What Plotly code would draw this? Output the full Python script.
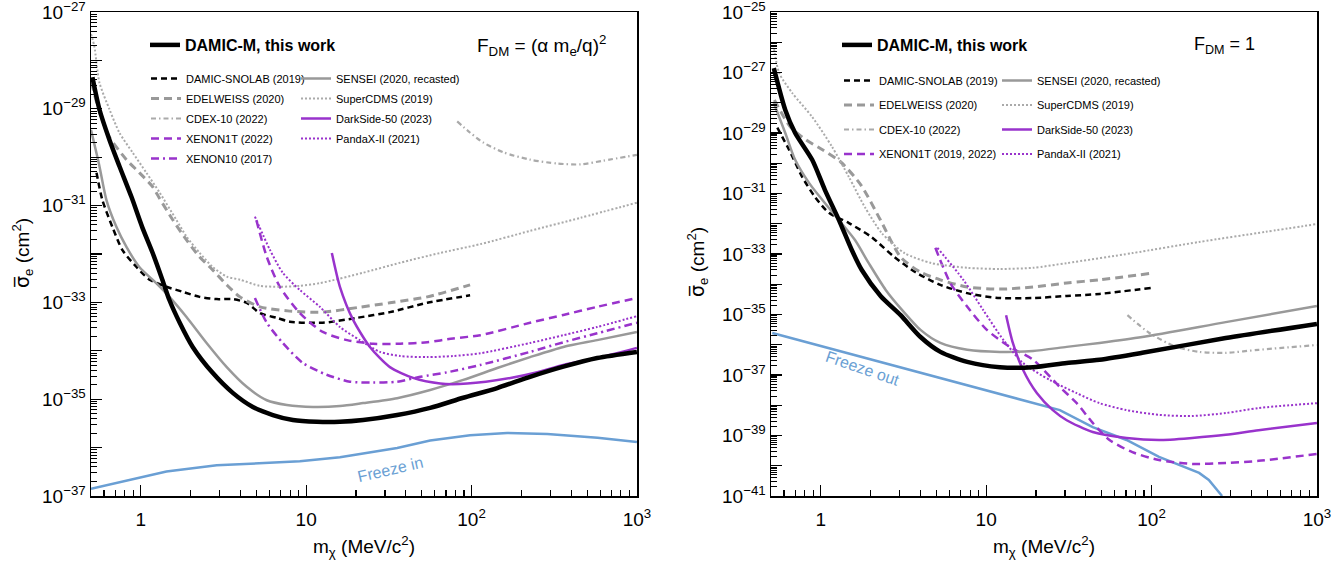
import plotly.graph_objects as go

# ---------------- data ----------------
# Left panel: F_DM = (alpha m_e / q)^2
L_damicm_m = [0.51, 0.562, 0.646, 0.743, 0.879, 1.02, 1.18, 1.35, 1.49, 1.72, 2.06, 2.72, 3.60, 4.76, 6.29, 8.31, 11.6, 16.0, 22.1, 35.5, 56.2, 89.1, 143, 226, 359, 575, 1000]
L_damicm_s = [4.5e-29, 9.8e-30, 2.3e-30, 6.5e-31, 1.5e-31, 3.6e-32, 1.05e-32, 2.95e-33, 1.12e-33, 3.8e-34, 1.2e-34, 3.5e-35, 1.35e-35, 6.9e-36, 4.7e-36, 3.7e-36, 3.4e-36, 3.4e-36, 3.7e-36, 4.7e-36, 6.6e-36, 1.07e-35, 1.7e-35, 2.9e-35, 4.7e-35, 7.1e-35, 9.5e-35]

L_snolab_m = [0.54, 0.586, 0.674, 0.775, 0.942, 1.13, 1.43, 1.79, 2.27, 2.88, 3.60, 4.37, 5.25, 6.64, 7.97, 12.6, 20.3, 32.1, 54.0, 98]
L_snolab_s = [4.8e-31, 1.3e-31, 3.6e-32, 1.2e-32, 5.4e-33, 2.95e-33, 2.1e-33, 1.66e-33, 1.3e-33, 1.17e-33, 1.17e-33, 9.8e-34, 6.0e-34, 4.8e-34, 4.0e-34, 3.8e-34, 4.8e-34, 6.3e-34, 9.8e-34, 1.4e-33]

L_edel_m = [0.503, 0.562, 0.646, 0.819, 0.98, 1.18, 1.30, 1.56, 1.89, 2.27, 2.72, 3.31, 3.98, 5.25, 7.97, 12.6, 20.3, 32.1, 54.0, 98]
L_edel_s = [3.5e-29, 8.7e-30, 2.6e-30, 8.9e-31, 4.8e-31, 2.45e-31, 1.4e-31, 5.1e-32, 1.95e-32, 8.7e-33, 4.7e-33, 2.3e-33, 1.3e-33, 8.1e-34, 6.6e-34, 6.3e-34, 7.8e-34, 9.8e-34, 1.3e-33, 2.3e-33]

L_cdex_m = [81.9, 98.2, 118, 156, 226, 330, 456, 628, 1000]
L_cdex_s = [5.5e-30, 3.2e-30, 2.0e-30, 1.26e-30, 8.9e-31, 7.4e-31, 7.1e-31, 8.5e-31, 1.12e-30]

L_xe1t_m = [5.0, 5.78, 6.93, 9.16, 12.6, 17.7, 25.4, 37.0, 54.0, 77.4, 113, 226, 359, 575, 1000]
L_xe1t_s = [5.0e-32, 8.7e-33, 2.1e-33, 6.0e-34, 2.45e-34, 1.66e-34, 1.4e-34, 1.4e-34, 1.5e-34, 1.8e-34, 2.1e-34, 3.8e-34, 5.5e-34, 8.1e-34, 1.23e-33]

L_xe10_m = [4.90, 5.78, 7.22, 9.55, 13.3, 18.4, 25.4, 35.5, 49.0, 71.3, 113, 226, 359, 575, 1000]
L_xe10_s = [1.23e-33, 3.8e-34, 1.45e-34, 5.6e-35, 3.2e-35, 2.3e-35, 2.2e-35, 2.3e-35, 2.9e-35, 3.6e-35, 5.1e-35, 9.5e-35, 1.5e-34, 2.3e-34, 3.8e-34]

L_sensei_m = [0.5, 0.56, 0.62, 0.713, 0.819, 0.98, 1.24, 1.49, 1.89, 2.50, 3.31, 4.37, 5.78, 7.64, 11.0, 16.0, 22.1, 35.5, 56.2, 89.1, 143, 226, 359, 575, 1000]
L_sensei_s = [3.7e-30, 7.0e-31, 1.3e-31, 3.6e-32, 1.4e-32, 5.4e-33, 2.5e-33, 1.3e-33, 5.0e-34, 1.45e-34, 4.6e-35, 1.8e-35, 9.5e-36, 7.6e-36, 6.9e-36, 7.2e-36, 8.3e-36, 1.05e-35, 1.55e-35, 2.5e-35, 4.4e-35, 7.4e-35, 1.2e-34, 1.66e-34, 2.45e-34]

L_scdms_m = [0.5, 0.524, 0.562, 0.646, 0.743, 0.891, 1.08, 1.30, 1.64, 1.89, 2.27, 2.72, 3.31, 3.98, 5.24, 6.93, 9.16, 12.1, 22.1, 37.0, 64.6, 113, 226, 456, 1000]
L_scdms_s = [3.5e-28, 1.95e-28, 3.5e-29, 9.8e-30, 3.2e-30, 1.26e-30, 4.8e-31, 1.86e-31, 5.1e-32, 2.3e-32, 1.05e-32, 5.4e-33, 3.4e-33, 2.95e-33, 2.2e-33, 2.1e-33, 2.2e-33, 2.5e-33, 4.1e-33, 6.6e-33, 1.05e-32, 1.6e-32, 3.0e-32, 5.6e-32, 1.15e-31]

L_ds50_m = [14.3, 16.0, 19.2, 24.3, 32.1, 44.3, 64.6, 94.2, 172, 250, 359, 575, 1000]
L_ds50_s = [1.05e-32, 2.1e-33, 4.4e-34, 1.2e-34, 4.6e-35, 2.75e-35, 2.1e-35, 2.1e-35, 2.75e-35, 3.6e-35, 5.1e-35, 7.1e-35, 1.15e-34]

L_pandax_m = [4.90, 6.03, 7.22, 9.16, 12.1, 16.0, 21.1, 28.0, 37.0, 54.0, 77.4, 113, 226, 359, 575, 1000]
L_pandax_s = [5.9e-32, 1.23e-32, 4.1e-33, 1.8e-33, 8.1e-34, 3.1e-34, 1.66e-34, 9.5e-35, 7.8e-35, 7.4e-35, 7.8e-35, 8.9e-35, 1.45e-34, 2.1e-34, 3.1e-34, 5.2e-34]

L_freeze_m = [0.5, 1.43, 2.88, 9.16, 16.0, 22.1, 35.5, 56.2, 98, 164, 287, 578, 1000]
L_freeze_s = [1.4e-37, 3.2e-37, 4.3e-37, 5.2e-37, 6.3e-37, 7.6e-37, 9.8e-37, 1.4e-36, 1.8e-36, 2.0e-36, 1.9e-36, 1.6e-36, 1.3e-36]

# Right panel: F_DM = 1
R_damicm_m = [0.52, 0.610, 0.700, 0.887, 1.06, 1.29, 1.54, 1.77, 2.30, 3.04, 4.01, 5.29, 7.69, 12.1, 19.2, 30.7, 48.5, 87.9, 281, 1000]
R_damicm_s = [1.4e-27, 5.8e-29, 1.0e-29, 1.3e-30, 1.3e-31, 1.3e-32, 1.35e-33, 2.95e-34, 4.1e-35, 9.5e-36, 1.8e-36, 5.8e-37, 2.7e-37, 1.8e-37, 1.8e-37, 2.5e-37, 3.2e-37, 5.4e-37, 1.66e-36, 4.9e-36]

R_snolab_m = [0.546, 0.644, 0.773, 0.924, 1.12, 1.48, 2.03, 2.79, 3.74, 5.29, 8.01, 12.1, 19.2, 30.7, 48.5, 99.7]
R_snolab_s = [1.5e-29, 2.75e-30, 3.5e-31, 7.6e-32, 2.3e-32, 1.05e-32, 3.6e-33, 7.9e-34, 2.5e-34, 9.5e-35, 4.8e-35, 3.5e-35, 3.5e-35, 4.1e-35, 4.8e-35, 7.6e-35]

R_edel_m = [0.524, 0.654, 0.816, 1.03, 1.32, 1.75, 2.30, 3.04, 4.01, 5.29, 7.69, 12.1, 19.2, 30.7, 48.5, 99.7]
R_edel_s = [1.23e-28, 1.6e-29, 5.9e-30, 2.75e-30, 1.1e-30, 1.9e-31, 1.3e-32, 7.9e-34, 2.5e-34, 1.4e-34, 8.1e-35, 6.9e-35, 8.1e-35, 1.1e-34, 1.4e-34, 2.3e-34]

R_cdex_m = [71.5, 97.0, 141, 194, 281, 444, 1000]
R_cdex_s = [9.5e-36, 2.45e-36, 8.5e-37, 5.8e-37, 5.4e-37, 6.8e-37, 9.8e-37]

R_xe1t_m = [4.93, 6.07, 7.69, 10.1, 13.9, 19.2, 27.9, 35.3, 44.1, 55.7, 76.6, 111, 176, 281, 444, 1000]
R_xe1t_s = [1.6e-33, 1.1e-34, 1.8e-35, 3.1e-36, 8.5e-37, 3.2e-37, 4.0e-38, 1.17e-38, 2.6e-39, 7.1e-40, 2.8e-40, 1.55e-40, 1.15e-40, 1.23e-40, 1.45e-40, 2.45e-40]

R_sensei_m = [0.52, 0.610, 0.700, 0.851, 1.02, 1.29, 1.61, 1.95, 2.47, 3.04, 4.01, 5.29, 7.69, 12.1, 19.2, 30.7, 48.5, 87.9, 281, 1000]
R_sensei_s = [9.8e-29, 1.0e-29, 1.3e-30, 2.2e-31, 6.2e-32, 1.3e-32, 2.9e-33, 5.0e-34, 6.5e-35, 1.6e-35, 3.1e-36, 1.15e-36, 6.8e-37, 5.8e-37, 6.2e-37, 8.5e-37, 1.15e-36, 1.8e-36, 5.6e-36, 1.9e-35]

R_scdms_m = [0.517, 0.561, 0.672, 0.887, 1.17, 1.48, 1.85, 2.34, 3.21, 4.67, 7.69, 12.1, 19.2, 30.7, 76.6, 194, 490, 1000]
R_scdms_s = [8.1e-27, 9.5e-28, 2.1e-28, 3.4e-29, 3.5e-30, 3.5e-31, 3.5e-32, 4.9e-33, 1.07e-33, 5.0e-34, 3.5e-34, 3.2e-34, 3.5e-34, 5.0e-34, 1.07e-33, 2.5e-33, 5.4e-33, 9.8e-33]

R_ds50_m = [13.2, 14.5, 16.7, 20.3, 25.3, 30.7, 44.1, 70.6, 111, 176, 281, 444, 1000]
R_ds50_s = [9.5e-36, 1.15e-36, 1.5e-37, 2.5e-38, 6.9e-39, 3.2e-39, 1.3e-39, 8.3e-40, 7.1e-40, 8.3e-40, 1.05e-39, 1.5e-39, 2.6e-39]

R_pandax_m = [5.07, 7.28, 9.60, 12.7, 16.7, 24.3, 35.3, 48.5, 70.6, 111, 176, 281, 444, 1000]
R_pandax_s = [1.6e-33, 1.4e-34, 1.4e-35, 1.45e-36, 2.5e-37, 6.8e-38, 2.5e-38, 1.17e-38, 6.9e-39, 4.8e-39, 4.4e-39, 5.5e-39, 8.1e-39, 1.17e-38]

R_freeze_m = [0.509, 3.04, 19.2, 27.9, 44.1, 70.6, 111, 194, 222, 267]
R_freeze_s = [2.45e-36, 1.8e-37, 1.17e-38, 6.9e-39, 1.9e-39, 7.1e-40, 1.95e-40, 5.8e-41, 3.4e-41, 1.0e-41]

# axis ticks
x_tickvals = [1, 10, 100, 1000]
x_ticktext = ["1", "10", "10<sup>2</sup>", "10<sup>3</sup>"]
L_exps = list(range(-37, -26))
R_exps = list(range(-41, -24))

# ---------------- styles ----------------
FONT = "Liberation Sans, Arial, Helvetica, sans-serif"
BLACK = "#000000"
GRAY = "#999999"
LGRAY = "#aaaaaa"
PURPLE = "#9933cc"
BLUE = "#6a9fd4"

fig = go.Figure()


def add(m, s, axis, color, width, dash, name, legend, shape="spline"):
    xa, ya_ = ("x", "y") if axis == 1 else ("x2", "y2")
    fig.add_trace(go.Scatter(
        x=m, y=s, xaxis=xa, yaxis=ya_, mode="lines", name=name,
        line=dict(color=color, width=width, dash=dash, shape=shape,
                  smoothing=0.7 if shape == "spline" else None),
        showlegend=legend is not None, legend=legend or "legend",
        legendgroup=name + str(axis), hoverinfo="skip"))


# left panel (legend order follows the order of addition within each legend)
add(L_freeze_m, L_freeze_s, 1, BLUE, 2.5, "solid", "Freeze in", None, "linear")
add(L_snolab_m, L_snolab_s, 1, BLACK, 2.5, "6px,4px", "DAMIC-SNOLAB (2019)", "legend2")
add(L_edel_m, L_edel_s, 1, GRAY, 3, "8px,5px", "EDELWEISS (2020)", "legend2")
add(L_cdex_m, L_cdex_s, 1, LGRAY, 2.2, "5px,3px,1.5px,3px", "CDEX-10 (2022)", "legend2")
add(L_xe1t_m, L_xe1t_s, 1, PURPLE, 2.5, "8px,5px", "XENON1T (2022)", "legend2")
add(L_xe10_m, L_xe10_s, 1, PURPLE, 2.5, "8px,4px,2px,4px", "XENON10 (2017)", "legend2")
add(L_sensei_m, L_sensei_s, 1, GRAY, 2.5, "solid", "SENSEI (2020, recasted)", "legend3")
add(L_scdms_m, L_scdms_s, 1, LGRAY, 2, "2px,2px", "SuperCDMS (2019)", "legend3")
add(L_ds50_m, L_ds50_s, 1, PURPLE, 2.5, "solid", "DarkSide-50 (2023)", "legend3")
add(L_pandax_m, L_pandax_s, 1, PURPLE, 2, "2px,2px", "PandaX-II (2021)", "legend3")
add(L_damicm_m, L_damicm_s, 1, BLACK, 4.5, "solid", "DAMIC-M, this work", "legend")

# right panel
add(R_freeze_m, R_freeze_s, 2, BLUE, 2.5, "solid", "Freeze out", None, "linear")
add(R_snolab_m, R_snolab_s, 2, BLACK, 2.5, "6px,4px", "DAMIC-SNOLAB (2019)", "legend5")
add(R_edel_m, R_edel_s, 2, GRAY, 3, "8px,5px", "EDELWEISS (2020)", "legend5")
add(R_cdex_m, R_cdex_s, 2, LGRAY, 2.2, "5px,3px,1.5px,3px", "CDEX-10 (2022)", "legend5")
add(R_xe1t_m, R_xe1t_s, 2, PURPLE, 2.5, "8px,5px", "XENON1T (2019, 2022)", "legend5")
add(R_sensei_m, R_sensei_s, 2, GRAY, 2.5, "solid", "SENSEI (2020, recasted)", "legend6")
add(R_scdms_m, R_scdms_s, 2, LGRAY, 2, "2px,2px", "SuperCDMS (2019)", "legend6")
add(R_ds50_m, R_ds50_s, 2, PURPLE, 2.5, "solid", "DarkSide-50 (2023)", "legend6")
add(R_pandax_m, R_pandax_s, 2, PURPLE, 2, "2px,2px", "PandaX-II (2021)", "legend6")
add(R_damicm_m, R_damicm_s, 2, BLACK, 4.5, "solid", "DAMIC-M, this work", "legend4")

# figure fills the whole window (body margin removed by a post script)
W, H = 1344, 562
T = 12
B = H - 496
PH = H - T - B


def px(x):
    return x / W


def py(y):
    return (496 - y) / PH


def legend_box(x, ytop, size, gap, bold=False):
    return dict(x=px(x), y=py(ytop), xanchor="left", yanchor="top",
                bgcolor="rgba(0,0,0,0)", borderwidth=0,
                font=dict(family=FONT, size=size, color="black",
                          weight="bold" if bold else "normal"),
                tracegroupgap=gap, itemwidth=30, traceorder="grouped")


axis_common = dict(type="log", showline=True, linecolor="black", linewidth=1.5,
                   mirror=True, ticks="inside", tickcolor="black", showgrid=False,
                   zeroline=False, tickfont=dict(family=FONT, size=19, color="black"),
                   automargin=False, ticklabeloverflow="allow")

xa_common = dict(axis_common, tickmode="array", tickvals=x_tickvals, ticktext=x_ticktext,
                 ticklen=11, tickwidth=1.2, ticklabelstandoff=6,
                 minor=dict(ticks="inside", ticklen=6, dtick="D1", tickcolor="black",
                            tickwidth=1.2, showgrid=False))


def ya(exps, rng):
    return dict(axis_common, tickmode="array",
                tickvals=[10.0 ** e for e in exps],
                ticktext=[("10<sup>\u2212%d</sup>" % (-e)) if (e % 2) else "" for e in exps],
                ticklen=11, tickwidth=1.2, range=rng,
                minor=dict(ticks="inside", ticklen=6, dtick="D1", tickcolor="black",
                           tickwidth=1.0, showgrid=False))


fig.update_layout(
    width=W, height=H, plot_bgcolor="white", paper_bgcolor="white",
    margin=dict(l=0, r=0, t=T, b=B),
    font=dict(family=FONT, color="black"),
    hovermode=False,
    xaxis=dict(xa_common, domain=[px(91), px(637)], range=[-0.301, 3.0005], anchor="y"),
    yaxis=dict(ya(L_exps, [-37.0005, -26.9995]), anchor="x"),
    xaxis2=dict(xa_common, domain=[px(771), px(1317)], range=[-0.301, 3.0005], anchor="y2"),
    yaxis2=dict(ya(R_exps, [-41.0005, -24.9995]), anchor="x2"),
    legend=legend_box(145, 28, 16, 0, bold=True),
    legend2=legend_box(146, 64, 11, 1),
    legend3=legend_box(296, 64, 11, 1),
    legend4=legend_box(837, 28, 16, 0, bold=True),
    legend5=legend_box(839, 66, 11, 5.5),
    legend6=legend_box(997, 66, 11, 5.5),
    showlegend=True,
)

SIG = "<span style='font-family:DejaVu Sans'>\u03c3\u0305</span>"
ann = [
    dict(text="F<sub>DM</sub> = (\u03b1 m<sub>e</sub>/q)<sup>2</sup>", x=px(475), y=py(45),
         xref="paper", yref="paper", xanchor="left", yanchor="middle", showarrow=False,
         font=dict(family=FONT, size=19, color="black")),
    dict(text="F<sub>DM</sub> = 1", x=px(1192), y=py(45),
         xref="paper", yref="paper", xanchor="left", yanchor="middle", showarrow=False,
         font=dict(family=FONT, size=18, color="black")),
    dict(text=SIG + "<sub>e</sub> (cm<sup>2</sup>)", x=px(23), y=py(253), textangle=-90,
         xref="paper", yref="paper", xanchor="center", yanchor="middle", showarrow=False,
         font=dict(family=FONT, size=19, color="black")),
    dict(text=SIG + "<sub>e</sub> (cm<sup>2</sup>)", x=px(697), y=py(262), textangle=-90,
         xref="paper", yref="paper", xanchor="center", yanchor="middle", showarrow=False,
         font=dict(family=FONT, size=19, color="black")),
    dict(text="m<sub>\u03c7</sub> (MeV/c<sup>2</sup>)", x=px(364), y=py(546),
         xref="paper", yref="paper", xanchor="center", yanchor="middle", showarrow=False,
         font=dict(family=FONT, size=19, color="black")),
    dict(text="m<sub>\u03c7</sub> (MeV/c<sup>2</sup>)", x=px(1044), y=py(546),
         xref="paper", yref="paper", xanchor="center", yanchor="middle", showarrow=False,
         font=dict(family=FONT, size=19, color="black")),
    dict(text="Freeze in", x=1.507, y=-36.45, xref="x", yref="y", textangle=-13,
         showarrow=False, font=dict(family=FONT, size=16, color=BLUE)),
    dict(text="Freeze out", x=0.254, y=-36.80, xref="x2", yref="y2", textangle=19,
         showarrow=False, font=dict(family=FONT, size=16, color=BLUE)),
]
fig.update_layout(annotations=ann)

fig.write_html("out.html", config={"displayModeBar": False, "staticPlot": True},
               post_script="document.body.style.margin='0';document.body.style.overflow='hidden';")
